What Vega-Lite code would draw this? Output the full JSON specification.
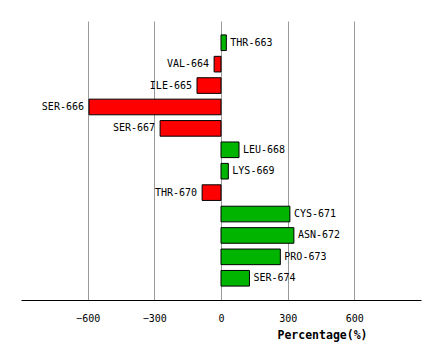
{
  "$schema": "https://vega.github.io/schema/vega-lite/v6.json",
  "width": 400,
  "height": 279,
  "autosize": {"type": "none"},
  "padding": {"left": 21, "top": 21, "right": 20, "bottom": 61},
  "background": "white",
  "config": {"view": {"stroke": null}},
  "data": {"values": [
    {"residue": "THR-663", "value": 24},
    {"residue": "VAL-664", "value": -31},
    {"residue": "ILE-665", "value": -108},
    {"residue": "SER-666", "value": -594},
    {"residue": "SER-667", "value": -274},
    {"residue": "LEU-668", "value": 81},
    {"residue": "LYS-669", "value": 33},
    {"residue": "THR-670", "value": -85},
    {"residue": "CYS-671", "value": 310},
    {"residue": "ASN-672", "value": 328},
    {"residue": "PRO-673", "value": 267},
    {"residue": "SER-674", "value": 128}
  ]},
  "encoding": {
    "y": {"field": "residue", "type": "nominal", "sort": null,
          "scale": {"paddingInner": 0.27, "paddingOuter": 0.65}, "axis": null},
    "x": {"field": "value", "type": "quantitative",
          "scale": {"domain": [-900, 900], "nice": false, "zero": false},
          "axis": {"values": [-600, -300, 0, 300, 600], "title": "Percentage(%)",
                   "grid": true, "gridColor": "#999999", "gridOpacity": 1, "gridWidth": 1,
                   "ticks": false, "domainColor": "#000000", "domainWidth": 1,
                   "labelFont": "DejaVu Sans Mono", "labelFontSize": 10, "labelColor": "#000000",
                   "labelPadding": 13,
                   "titleFont": "DejaVu Sans Mono", "titleFontSize": 11.5, "titleFontWeight": "bold",
                   "titleColor": "#000000", "titleX": 301, "titleY": 35, "titleAlign": "center",
                   "titleBaseline": "middle"}}
  },
  "layer": [
    {"mark": {"type": "bar", "stroke": "#000000", "strokeWidth": 1},
     "encoding": {
       "color": {"condition": {"test": "datum.value > 0", "value": "#00B400"}, "value": "#FF0000"}
     }},
    {"transform": [{"filter": "datum.value > 0"}],
     "mark": {"type": "text", "align": "left", "baseline": "middle", "dx": 4,
              "font": "DejaVu Sans Mono", "fontSize": 10, "fill": "#000000"},
     "encoding": {"text": {"field": "residue"}}},
    {"transform": [{"filter": "datum.value <= 0"}],
     "mark": {"type": "text", "align": "right", "baseline": "middle", "dx": -5,
              "font": "DejaVu Sans Mono", "fontSize": 10, "fill": "#000000"},
     "encoding": {"text": {"field": "residue"}}}
  ]
}
